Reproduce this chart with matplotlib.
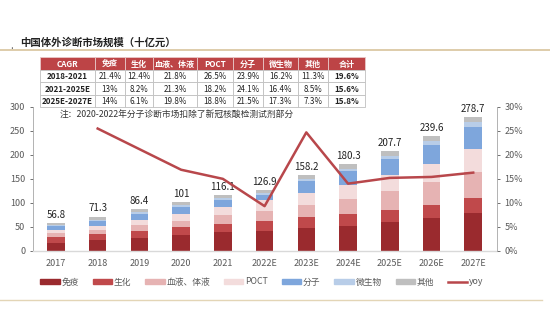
import matplotlib
matplotlib.use("Agg")
import matplotlib.pyplot as plt
import numpy as np
from matplotlib.lines import Line2D
from matplotlib.patches import Rectangle

plt.rcParams['font.family'] = ['Noto Sans CJK SC', 'DejaVu Sans']

years = ['2017', '2018', '2019', '2020', '2021', '2022E', '2023E',
         '2024E', '2025E', '2026E', '2027E']

# 十亿元
immune = [17, 22, 27, 33, 38, 42, 47, 52, 60, 69, 79]
biochem = [11, 13, 15, 15.5, 17.5, 20, 23, 25, 25, 27, 30]
blood = [9, 9, 12, 14, 20, 21, 26, 31.5, 39, 47, 56]
poct = [7, 8, 10.5, 14, 15.5, 23, 23.5, 29.5, 35, 39, 48]
molecular = [7, 9, 12.5, 14, 14, 9.5, 26, 28, 31.5, 38, 44.5]
micro = [2.5, 4, 4, 4, 5.8, 5.6, 4.5, 5.5, 7, 9, 10.6]
other = [3.3, 6.3, 5.4, 6.5, 5.3, 5.8, 8.2, 8.8, 10.2, 10.6, 10.6]
totals = [56.8, 71.3, 86.4, 101, 116.1, 126.9, 158.2, 180.3, 207.7, 239.6, 278.7]
yoy = [None, 25.5, 21.2, 16.9, 15.0, 9.3, 24.7, 14.0, 15.2, 15.4, 16.3]

seg_names = ['免疫', '生化', '血液、体液', 'POCT', '分子', '微生物', '其他']
seg_colors = ['#9a2a2e', '#c0494b', '#e6b3b3', '#f3dcdc', '#7ea6dc', '#b8cde8', '#bfbfbf']

table_cols = ['CAGR', '免疫', '生化', '血液、体液', 'POCT', '分子', '微生物', '其他', '合计']
table_rows = [
    ['2018-2021', '21.4%', '12.4%', '21.8%', '26.5%', '23.9%', '16.2%', '11.3%', '19.6%'],
    ['2021-2025E', '13%', '8.2%', '21.3%', '18.2%', '24.1%', '16.4%', '8.5%', '15.6%'],
    ['2025E-2027E', '14%', '6.1%', '19.8%', '18.8%', '21.5%', '17.3%', '7.3%', '15.8%'],
]

W, H = 550, 330
fig = plt.figure(figsize=(5.5, 3.3), dpi=100)

# title and rules
fig.text(10 / W, 1 - 46 / H, '.', fontsize=7, color='#555555', va='center')
fig.text(20 / W, 1 - 43 / H, '中国体外诊断市场规模（十亿元）', fontsize=7.5,
         fontweight='bold', color='#222222', va='center')
fig.add_artist(Line2D([0, 1], [1 - 50 / H, 1 - 50 / H], color='#d8c49c', lw=1.2))
fig.add_artist(Line2D([0, 0.985], [1 - 300 / H, 1 - 300 / H], color='#e3d5b6', lw=1.0))

ax = fig.add_axes([33 / W, 1 - 250.7 / H, (497 - 33) / W, (250.7 - 107) / H])
x = np.arange(len(years))
bottom = np.zeros(len(years))
series = [immune, biochem, blood, poct, molecular, micro, other]
for vals, name, col in zip(series, seg_names, seg_colors):
    ax.bar(x, vals, width=0.42, bottom=bottom, color=col, label=name)
    bottom += np.array(vals)

for xi, t in zip(x, totals):
    ax.text(xi, t + 7, f'{t:g}', ha='center', va='bottom', fontsize=7, color='#222222')

ax.set_xlim(-0.55, 10.57)
ax.set_ylim(0, 300)
ax.set_yticks(range(0, 301, 50))
ax.set_xticks(x)
ax.set_xticklabels(years)
ax.tick_params(axis='both', labelsize=6.5, colors='#595959', length=2, width=0.6)
ax.tick_params(axis='x', length=0, pad=6)
for s in ['top', 'right']:
    ax.spines[s].set_visible(False)
ax.spines['left'].set_color('#a6a6a6')
ax.spines['left'].set_linewidth(0.6)
ax.spines['bottom'].set_color('#d9d9d9')
ax.spines['bottom'].set_linewidth(1.0)

ax.text(0.1, 282, '注：2020-2022年分子诊断市场扣除了新冠核酸检测试剂部分',
        fontsize=6.3, color='#333333', va='center')

ax2 = ax.twinx()
yx = [i for i, v in enumerate(yoy) if v is not None]
yv = [v / 100 for v in yoy if v is not None]
ax2.plot(yx, yv, color='#b8474b', lw=1.8, label='yoy')
ax2.set_ylim(0, 0.30)
ax2.set_yticks(np.arange(0, 0.301, 0.05))
ax2.set_yticklabels([f'{int(round(v * 100))}%' for v in np.arange(0, 0.301, 0.05)])
ax2.tick_params(axis='y', labelsize=6.5, colors='#595959', length=2, width=0.6)
for s in ['top', 'left', 'bottom']:
    ax2.spines[s].set_visible(False)
ax2.spines['right'].set_color('#a6a6a6')
ax2.spines['right'].set_linewidth(0.6)

# legend
handles = [Rectangle((0, 0), 1, 1, color=c) for c in seg_colors]
handles.append(Line2D([0], [0], color='#b8474b', lw=1.8))
leg = fig.legend(handles, seg_names + ['yoy'], loc='center',
                 bbox_to_anchor=(262 / W, 1 - 282 / H), ncol=8, frameon=False,
                 fontsize=6.3, handlelength=2.2, handleheight=0.4,
                 handletextpad=0.2, columnspacing=1.6)
for t in leg.get_texts():
    t.set_color('#595959')

# CAGR table, drawn cell by cell in a 0..1 axes
tax = fig.add_axes([40 / W, 1 - 107 / H, 325 / W, 50 / H])
tax.set_xlim(0, 1)
tax.set_ylim(0, 1)
tax.axis('off')
widths = np.array([55, 30, 28, 44, 36, 30, 35, 30, 37], dtype=float)
widths = widths / widths.sum()
edges = np.concatenate([[0], np.cumsum(widths)])
all_rows = [table_cols] + table_rows
rh = 1 / len(all_rows)
for r, row in enumerate(all_rows):
    y0 = 1 - (r + 1) * rh
    for c, label in enumerate(row):
        header = r == 0
        tax.add_patch(Rectangle((edges[c], y0), widths[c], rh,
                                facecolor='#bd4446' if header else 'white',
                                edgecolor='#e8c8c8' if header else '#bfbfbf',
                                lw=0.6, clip_on=False))
        bold = header or c == 0 or c == 8
        tax.text(edges[c] + widths[c] / 2, y0 + rh / 2, label,
                 ha='center', va='center_baseline', fontsize=5.8,
                 color='white' if header else '#222222',
                 fontweight='bold' if bold else 'normal')

fig.savefig('out.png', dpi=100, facecolor='white')
